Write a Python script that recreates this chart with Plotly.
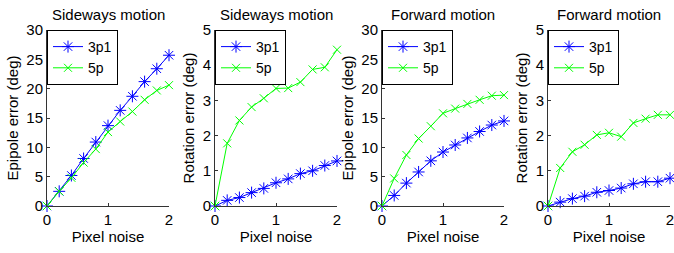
import plotly.graph_objects as go

noise = [0, 0.2, 0.4, 0.6, 0.8, 1.0, 1.2, 1.4, 1.6, 1.8, 2.0]

side_epi_3p1 = [0, 2.5, 5.2, 8.1, 10.9, 13.7, 16.3, 18.7, 21.2, 23.4, 25.7]
side_epi_5p = [0, 2.5, 4.8, 7.4, 9.7, 12.6, 14.4, 16.1, 18.1, 19.7, 20.6]
side_rot_3p1 = [0, 0.16, 0.24, 0.38, 0.5, 0.66, 0.77, 0.92, 1.0, 1.15, 1.28]
side_rot_5p = [0, 1.78, 2.43, 2.81, 3.06, 3.34, 3.35, 3.52, 3.88, 3.94, 4.44]
fwd_epi_3p1 = [0, 1.8, 3.9, 5.8, 7.7, 9.2, 10.4, 11.6, 12.7, 13.8, 14.5]
fwd_epi_5p = [0, 4.7, 8.7, 11.5, 13.6, 15.8, 16.6, 17.4, 18.1, 18.8, 18.9]
fwd_rot_3p1 = [0, 0.11, 0.21, 0.28, 0.39, 0.44, 0.51, 0.63, 0.69, 0.69, 0.79]
fwd_rot_5p = [0, 1.08, 1.54, 1.74, 2.02, 2.08, 1.97, 2.36, 2.48, 2.59, 2.59]

titles = ["Sideways motion", "Sideways motion", "Forward motion", "Forward motion"]
ylabels = ["Epipole error (deg)", "Rotation error (deg)", "Epipole error (deg)", "Rotation error (deg)"]
xlabel = "Pixel noise"
series_names = ["3p1", "5p"]
yranges = [30, 5, 30, 5]
ydticks = [5, 1, 5, 1]
panels = [
    (side_epi_3p1, side_epi_5p),
    (side_rot_3p1, side_rot_5p),
    (fwd_epi_3p1, fwd_epi_5p),
    (fwd_rot_3p1, fwd_rot_5p),
]

W, H = 674, 253
lefts = [47, 215, 382, 548]
pw = 122
top, bottom = 30, 206
FONT = "Liberation Sans, Arial, sans-serif"
FS = 15

fig = go.Figure()
layout = dict(
    width=W, height=H, margin=dict(l=0, r=0, t=0, b=0, pad=0, autoexpand=False),
    paper_bgcolor="white", plot_bgcolor="white",
    font=dict(family=FONT, size=FS, color="black"),
    showlegend=True,
)
annotations = []
for i, (a, b) in enumerate(panels):
    k = "" if i == 0 else str(i + 1)
    xa, ya = "x" + k, "y" + k
    lg = "legend" + k
    fig.add_trace(go.Scatter(
        x=noise, y=a, name=series_names[0], mode="lines+markers",
        line=dict(color="#0000ff", width=1),
        marker=dict(symbol="asterisk-open", size=10, color="#0000ff", line=dict(width=1, color="#0000ff")),
        xaxis=xa, yaxis=ya, legend=lg, cliponaxis=False))
    fig.add_trace(go.Scatter(
        x=noise, y=b, name=series_names[1], mode="lines+markers",
        line=dict(color="#00ff00", width=1),
        marker=dict(symbol="x-thin-open", size=8, color="#00ff00", line=dict(width=1, color="#00ff00")),
        xaxis=xa, yaxis=ya, legend=lg, cliponaxis=False))
    x0 = lefts[i] / W
    x1 = (lefts[i] + pw) / W
    y0 = (H - bottom) / H
    y1 = (H - top) / H
    layout["xaxis" + k] = dict(
        domain=[x0, x1], range=[0, 2], anchor=ya, tickvals=[0, 1, 2], automargin=False,
        ticks="inside", ticklen=3, tickcolor="#333", showline=True, linecolor="#333",
        linewidth=1, showgrid=False, zeroline=False, mirror=False, ticklabeloverflow="allow",
        tickfont=dict(size=FS), title=dict(text=xlabel, font=dict(size=FS), standoff=3))
    layout["yaxis" + k] = dict(
        domain=[y0, y1], range=[0, yranges[i]], anchor=xa, dtick=ydticks[i], tick0=0, automargin=False,
        ticks="inside", ticklen=3, tickcolor="#333", showline=True, linecolor="#333",
        linewidth=1, showgrid=False, zeroline=False, mirror=False, ticklabeloverflow="allow",
        tickfont=dict(size=FS), title=dict(text=ylabels[i], font=dict(size=FS), standoff=4))
    layout[lg] = dict(
        x=x0, y=y1, xanchor="left", yanchor="top", bgcolor="white",
        bordercolor="black", borderwidth=1, font=dict(size=14),
        tracegroupgap=0, itemwidth=30)
    annotations.append(dict(
        text=titles[i], x=(x0 + x1) / 2, y=(H - 14) / H, xref="paper", yref="paper",
        showarrow=False, font=dict(size=FS), xanchor="center", yanchor="middle"))
layout["annotations"] = annotations
fig.update_layout(**layout)
fig.write_html("out.html", config={"displayModeBar": False},
               post_script="document.body.style.margin='0';document.body.style.padding='0';")
